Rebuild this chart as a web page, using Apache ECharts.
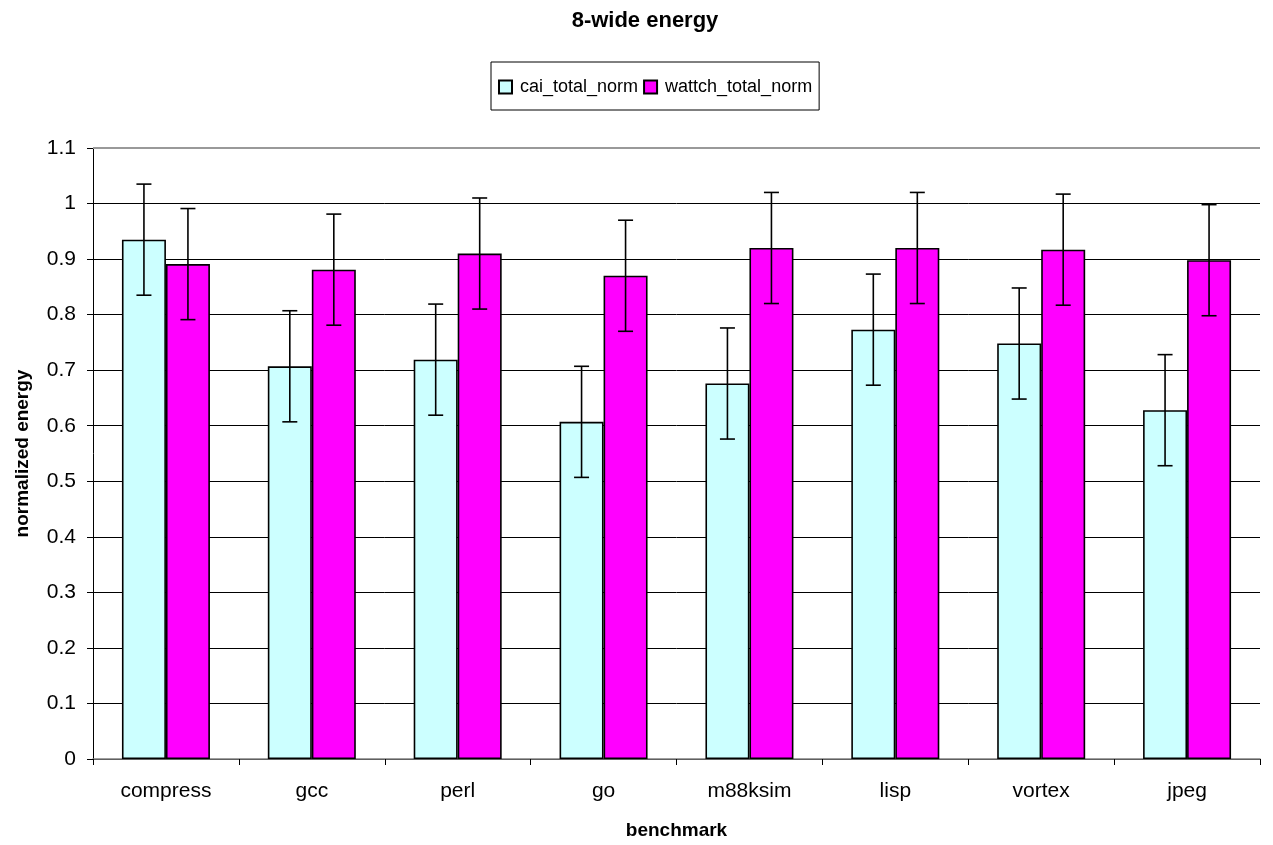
<!DOCTYPE html>
<html><head><meta charset="utf-8">
<script src="https://cdn.jsdelivr.net/npm/echarts@6/dist/echarts.min.js"></script>
<style>html,body{margin:0;padding:0;background:#fff}#c{width:1273px;height:845px}</style>
</head><body><div id="c"></div>
<script>
const categories = ['compress','gcc','perl','go','m88ksim','lisp','vortex','jpeg'];
const caiTotalNorm = [0.935,0.707,0.719,0.607,0.676,0.773,0.748,0.628];
const wattchTotalNorm = [0.891,0.881,0.910,0.870,0.920,0.920,0.917,0.898];
const caiError = [0.1,0.1,0.1,0.1,0.1,0.1,0.1,0.1];
const wattchError = [0.1,0.1,0.1,0.1,0.1,0.1,0.1,0.1];
const seriesNames = ['cai_total_norm','wattch_total_norm'];
const yTicks = [0,0.1,0.2,0.3,0.4,0.5,0.6,0.7,0.8,0.9,1,1.1];

const FONT = 'Liberation Sans, Arial, sans-serif';
const chart = echarts.init(document.getElementById('c'), null, {renderer:'canvas'});

function errData(vals, errs, idx){
  return vals.map((v,i)=>[i, v-errs[i], v+errs[i], idx]);
}
const barWidth = 44;
function errRender(params, api){
  const i = api.value(0), lo = api.value(1), hi = api.value(2), s = api.value(3);
  const base = api.coord([i, 0]);
  const x = base[0] + (s === 0 ? -barWidth/2 : barWidth/2);
  const pLo = api.coord([i, lo]), pHi = api.coord([i, hi]);
  const cap = 7.5;
  const st = {stroke:'#000', lineWidth:1.6};
  return {type:'group', children:[
    {type:'line', shape:{x1:x,y1:pLo[1],x2:x,y2:pHi[1]}, style:st},
    {type:'line', shape:{x1:x-cap,y1:pLo[1],x2:x+cap,y2:pLo[1]}, style:st},
    {type:'line', shape:{x1:x-cap,y1:pHi[1],x2:x+cap,y2:pHi[1]}, style:st}
  ]};
}

chart.setOption({
  animation:false,
  backgroundColor:'#fff',
  title:{text:'8-wide energy', left:640, textAlign:'center', top:5,
    textStyle:{fontFamily:FONT, fontSize:22, fontWeight:'bold', color:'#000'}},
  legend:{data:seriesNames, top:62, left:491, icon:'rect', itemWidth:13, itemHeight:13, itemGap:5,
    borderColor:'#000', borderWidth:1, padding:[16,7,14,7],
    textStyle:{fontFamily:FONT, fontSize:18, color:'#000', padding:[0,0,0,3]}},
  grid:{left:93, right:13, top:148, bottom:85, containLabel:false},
  xAxis:{type:'category', data:categories,
    name:'benchmark', nameLocation:'middle', nameGap:62,
    nameTextStyle:{fontFamily:FONT, fontSize:19, fontWeight:'bold', color:'#000'},
    axisLine:{lineStyle:{color:'#808080', width:1.5}},
    axisTick:{show:true, alignWithLabel:false, length:6, lineStyle:{color:'#000'}},
    axisLabel:{fontFamily:FONT, fontSize:21, color:'#000', margin:22}},
  yAxis:{type:'value', min:0, max:1.1, interval:0.1,
    name:'normalized energy', nameLocation:'middle', nameGap:61,
    nameTextStyle:{fontFamily:FONT, fontSize:19, fontWeight:'bold', color:'#000'},
    axisLine:{show:true, lineStyle:{color:'#000', width:1}},
    axisTick:{show:true, length:6, lineStyle:{color:'#000'}},
    axisLabel:{fontFamily:FONT, fontSize:21, color:'#000', margin:17,
      formatter:function(v){ const t = yTicks.find(x=>Math.abs(x-v)<1e-9); return String(t!==undefined?t:+v.toFixed(1)); }},
    splitLine:{show:true, lineStyle:{color:'#000', width:1}}},
  series:[
    {name:seriesNames[0], type:'bar', data:caiTotalNorm, barWidth:barWidth, barGap:'0%',
      itemStyle:{color:'#ccffff', borderColor:'#000', borderWidth:1.6}},
    {name:seriesNames[1], type:'bar', data:wattchTotalNorm, barWidth:barWidth, barGap:'0%',
      itemStyle:{color:'#ff00ff', borderColor:'#000', borderWidth:1.6}},
    {type:'custom', renderItem:errRender, data:errData(caiTotalNorm, caiError, 0), z:10, silent:true},
    {type:'custom', renderItem:errRender, data:errData(wattchTotalNorm, wattchError, 1), z:10, silent:true}
  ],
  graphic:[{type:'line', shape:{x1:93,y1:148,x2:1260,y2:148}, style:{stroke:'#999', lineWidth:2}, z:5}]
});
</script></body></html>
